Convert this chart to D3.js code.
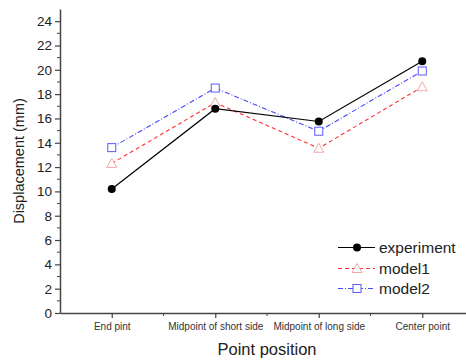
<!DOCTYPE html>
<html>
<head>
<meta charset="utf-8">
<script src="https://cdn.jsdelivr.net/npm/d3@7"></script>
<style>
  body { margin: 0; background: #fff; }
  text { font-family: "Liberation Sans", Arial, sans-serif; }
</style>
</head>
<body>
<div id="chart"></div>
<script>
const categories = ["End pint", "Midpoint of short side", "Midpoint of long side", "Center point"];
const experiment = [10.2, 16.8, 15.75, 20.7];
const model1 = [12.3, 17.3, 13.55, 18.6];
const model2 = [13.6, 18.5, 14.95, 19.9];
const yTicks = [0, 2, 4, 6, 8, 10, 12, 14, 16, 18, 20, 22, 24];

const width = 466;
const height = 361;
const margin = { top: 9, bottom: 48, left: 60, right: -8 };

const svg = d3.select('#chart')
    .append('svg')
    .attr('width', width)
    .attr('height', height);

const x = d3.scaleLinear()
    .domain([0.5, categories.length + 0.5])
    .range([margin.left, width - margin.right]);

const y = d3.scaleLinear()
    .domain([0, 25])
    .range([height - margin.bottom, margin.top]);

const series = [
    { name: 'experiment', values: experiment, color: '#000', dash: null, marker: 'circle' },
    { name: 'model1', values: model1, color: '#ff3030', dash: '4,3', marker: 'triangle', mColor: '#f0a8a8' },
    { name: 'model2', values: model2, color: '#4848ff', dash: '5,2,1,2', marker: 'square', mColor: '#5a5aff' }
];

// y axis
const yAxis = svg.append('g')
    .attr('transform', `translate(${margin.left},0)`)
    .call(d3.axisLeft(y).tickValues(yTicks).tickSize(5).tickPadding(3).tickSizeOuter(0));
yAxis.select('.domain').attr('stroke', '#444').attr('stroke-width', 1.5);
yAxis.selectAll('.tick line').attr('stroke', '#444').attr('stroke-width', 1.2);
yAxis.selectAll('.tick text').attr('font-size', 13.5).attr('fill', '#222');
yAxis.append('g').selectAll('line')
    .data(d3.range(1, 25, 2))
    .join('line')
    .attr('x1', 0).attr('x2', -3)
    .attr('y1', d => y(d)).attr('y2', d => y(d))
    .attr('stroke', '#444');

// x axis
const xAxis = svg.append('g')
    .attr('transform', `translate(0,${y(0)})`)
    .call(d3.axisBottom(x).tickValues(d3.range(1, categories.length + 1))
        .tickFormat(d => categories[d - 1]).tickSize(5).tickPadding(5).tickSizeOuter(0));
xAxis.select('.domain').attr('stroke', '#444').attr('stroke-width', 1.5);
xAxis.selectAll('.tick line').attr('stroke', '#444').attr('stroke-width', 1.2);
xAxis.selectAll('.tick text').attr('font-size', 10).attr('fill', '#333');
xAxis.append('g').selectAll('line')
    .data(d3.range(1.5, categories.length, 1))
    .join('line')
    .attr('x1', d => x(d)).attr('x2', d => x(d))
    .attr('y1', 0).attr('y2', 3)
    .attr('stroke', '#444');

// axis titles
svg.append('text')
    .attr('transform', `translate(24,${(y(0) + y(25)) / 2}) rotate(-90)`)
    .attr('text-anchor', 'middle')
    .attr('font-size', 14.5)
    .attr('fill', '#222')
    .text('Displacement (mm)');

svg.append('text')
    .attr('x', 267)
    .attr('y', 355)
    .attr('text-anchor', 'middle')
    .attr('font-size', 16.5)
    .attr('fill', '#222')
    .text('Point position');

const line = d3.line()
    .x((d, i) => x(i + 1))
    .y(d => y(d));

function drawMarker(g, type, color, cx, cy) {
    if (type === 'circle') {
        g.append('circle').attr('cx', cx).attr('cy', cy).attr('r', 4).attr('fill', '#000');
    } else if (type === 'triangle') {
        g.append('path')
            .attr('d', `M${cx},${cy - 5}L${cx + 5},${cy + 4}L${cx - 5},${cy + 4}Z`)
            .attr('fill', '#fff').attr('stroke', color).attr('stroke-width', 1);
    } else {
        g.append('rect').attr('x', cx - 4).attr('y', cy - 4).attr('width', 8).attr('height', 8)
            .attr('fill', '#fff').attr('stroke', color).attr('stroke-width', 1);
    }
}

series.slice().reverse().forEach(s => {
    svg.append('path')
        .datum(s.values)
        .attr('d', line)
        .attr('fill', 'none')
        .attr('stroke', s.color)
        .attr('stroke-width', s.marker === 'circle' ? 1.2 : 1.1)
        .attr('stroke-dasharray', s.dash);
    const g = svg.append('g');
    s.values.forEach((v, i) => drawMarker(g, s.marker, s.mColor || s.color, x(i + 1), y(v)));
});

// legend
const legend = svg.append('g').attr('transform', 'translate(338,247)');
series.forEach((s, i) => {
    const ly = Math.round(i * 20.5) + 0.5;
    legend.append('line')
        .attr('x1', 0).attr('x2', 37).attr('y1', ly).attr('y2', ly)
        .attr('stroke', s.color).attr('stroke-width', 1)
        .attr('stroke-dasharray', s.dash);
    drawMarker(legend, s.marker, s.mColor || s.color, 19, ly);
    legend.append('text')
        .attr('x', 41).attr('y', ly + 5.5)
        .attr('font-size', 15.5)
        .attr('fill', '#222')
        .text(s.name);
});
</script>
</body>
</html>
